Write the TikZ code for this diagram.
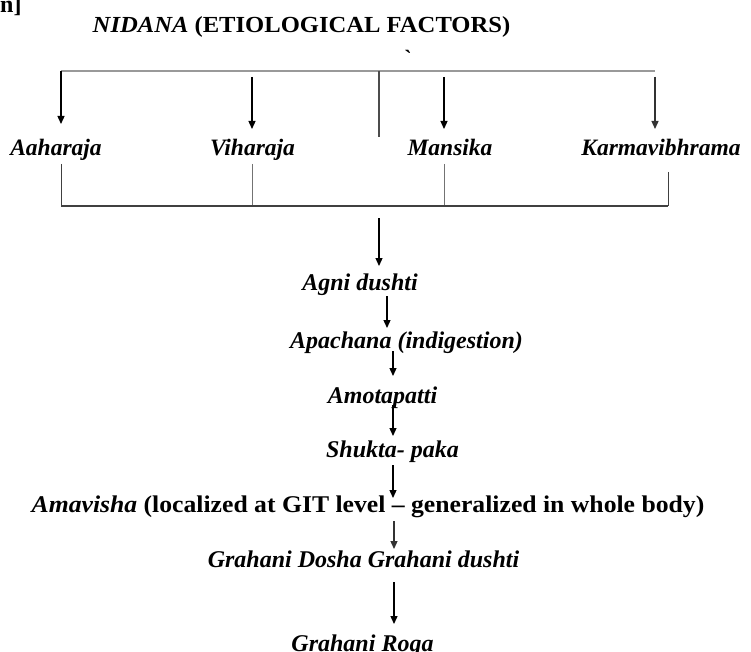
\documentclass[tikz,border=0pt]{standalone}
\usepackage{fontspec}
\setmainfont{Liberation Serif}
\newfontfamily\widebf{Liberation Serif}[FakeStretch=1.07]
\usetikzlibrary{arrows.meta}
\begin{document}
\begin{tikzpicture}[x=1pt,y=-1pt,
  txt/.style={inner sep=0pt, anchor=base, font=\fontsize{24}{28}\selectfont\bfseries\itshape},
  toplbl/.style={inner sep=0pt, anchor=base, font=\fontsize{23.5}{28}\selectfont\bfseries\itshape},
  widetxt/.style={inner sep=0pt, anchor=base, font=\widebf\bfseries},
  arr/.style={-{Triangle[length=8pt,width=7pt]}, line width=1.3pt, black},
  grayline/.style={line width=2pt, draw=black!40},
  darkline/.style={line width=1.4pt, draw=black!75},
  thinline/.style={line width=1pt, draw=black!75}]
\useasboundingbox (0,0) rectangle (751,652);

% corner fragment and title
\node[inner sep=0pt, anchor=base west, font=\fontsize{24}{28}\selectfont\bfseries] (frag) at (0,13) {n]};
\node[widetxt, font=\widebf\fontsize{23}{28}\selectfont\bfseries] (title) at (301.5,33) {\textit{NIDANA} (ETIOLOGICAL FACTORS)};
\node[inner sep=0pt, anchor=base, font=\fontsize{22}{26}\selectfont\bfseries] (grave) at (408,66) {\textasciigrave};

% top distribution line
\coordinate (tl) at (61,71);
\coordinate (tr) at (655,71);
\coordinate (tc) at (379,71);
\coordinate (tcend) at (379,137);
\draw[grayline] (tl) -- (tr);
\draw[line width=2pt, draw=black!70] (tc) -- (tcend);

% four factors
\node[toplbl] (aah) at (56,156) {Aaharaja};
\node[toplbl] (vih) at (252.5,156) {Viharaja};
\node[toplbl] (man) at (450,156) {Mansika};
\node[toplbl] (kar) at (661,156) {Karmavibhrama};

\coordinate (a1s) at (61,71);   \coordinate (a1e) at (61,124);
\coordinate (a2s) at (252,77);  \coordinate (a2e) at (252,129);
\coordinate (a3s) at (444,77);  \coordinate (a3e) at (444,129);
\coordinate (a4s) at (655,77);  \coordinate (a4e) at (655,129);
\draw[arr] (a1s) -- (a1e);
\draw[arr] (a2s) -- (a2e);
\draw[arr] (a3s) -- (a3e);
\draw[arr, draw=black!80, fill=black!80] (a4s) -- (a4e);

% collecting line
\coordinate (b1) at (61,164);  \coordinate (c1) at (61,206);
\coordinate (b2) at (252,164); \coordinate (c2) at (252,206);
\coordinate (b3) at (444,164); \coordinate (c3) at (444,206);
\coordinate (b4) at (668,172); \coordinate (c4) at (668,206);
\draw[thinline] (b1) -- (c1);
\draw[thinline, draw=black!55] (b2) -- (c2);
\draw[thinline, draw=black!55] (b3) -- (c3);
\draw[thinline] (b4) -- (c4);
\draw[darkline] (c1) -- (c4);

% pathway
\node[txt] (agni) at (360,290) {Agni dushti};
\node[txt] (apa) at (406.5,348) {Apachana (indigestion)};
\node[txt] (amo) at (382.5,403) {Amotapatti};
\node[txt] (shu) at (392.5,457) {Shukta- paka};
\node[widetxt, font=\widebf\fontsize{24}{28}\selectfont\bfseries] (ama) at (368,512) {\textit{Amavisha} (localized at GIT level – generalized in whole body)};
\node[txt] (gd) at (363.5,567) {Grahani Dosha Grahani dushti};
\node[txt] (gr) at (362.5,651) {Grahani Roga};

\coordinate (p0s) at (379,218); \coordinate (p0e) at (379,266);
\coordinate (p1s) at (387,296); \coordinate (p1e) at (387,328);
\coordinate (p2s) at (393,351); \coordinate (p2e) at (393,376);
\coordinate (p3s) at (393,405); \coordinate (p3e) at (393,436);
\coordinate (p4s) at (393,465); \coordinate (p4e) at (393,498);
\coordinate (p5s) at (394,521); \coordinate (p5e) at (394,549);
\coordinate (p6s) at (394,582); \coordinate (p6e) at (394,624);
\draw[arr] (p0s) -- (p0e);
\draw[arr] (p1s) -- (p1e);
\draw[arr] (p2s) -- (p2e);
\draw[arr] (p3s) -- (p3e);
\draw[arr] (p4s) -- (p4e);
\draw[arr, draw=black!80, fill=black!80] (p5s) -- (p5e);
\draw[arr] (p6s) -- (p6e);
\end{tikzpicture}
\end{document}
